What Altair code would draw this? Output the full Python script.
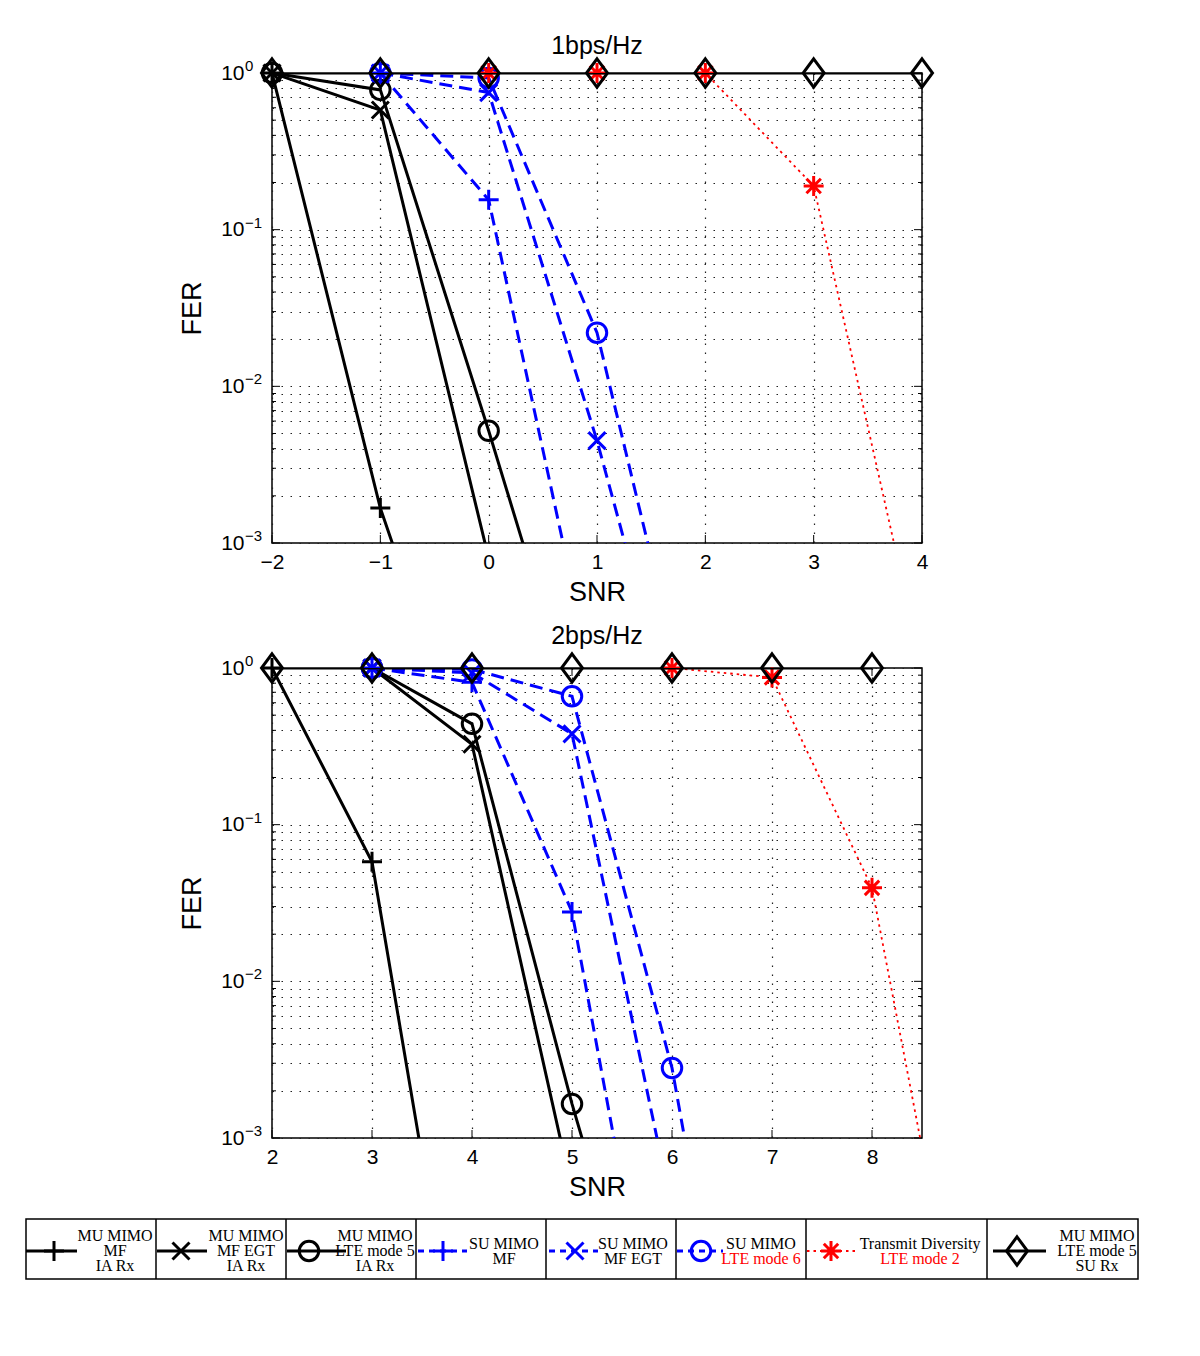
import altair as alt
import pandas as pd

# ---------------- data ----------------
SERIES = [
    "MU MIMO MF IA Rx",
    "MU MIMO MF EGT IA Rx",
    "MU MIMO LTE mode 5 IA Rx",
    "SU MIMO MF",
    "SU MIMO MF EGT",
    "SU MIMO LTE mode 6",
    "Transmit Diversity LTE mode 2",
    "MU MIMO LTE mode 5 SU Rx",
]

# panel 1 : 1bps/Hz
p1_mu_mf_snr = [-2, -1, 0]
p1_mu_mf_fer = [1.0, 1.67e-3, 1.6e-5]
p1_mu_egt_snr = [-2, -1, 0]
p1_mu_egt_fer = [1.0, 0.58, 8.0e-4]
p1_mu_lte5_snr = [-2, -1, 0, 1]
p1_mu_lte5_fer = [1.0, 0.78, 5.2e-3, 2.8e-5]
p1_su_mf_snr = [-1, 0, 1]
p1_su_mf_fer = [1.0, 0.155, 1.0e-4]
p1_su_egt_snr = [-1, 0, 1, 2]
p1_su_egt_fer = [1.0, 0.75, 4.5e-3, 1.3e-5]
p1_su_lte6_snr = [-1, 0, 1, 2]
p1_su_lte6_fer = [1.0, 0.93, 0.022, 3.0e-5]
p1_txdiv_snr = [0, 1, 2, 3, 4]
p1_txdiv_fer = [1.0, 1.0, 1.0, 0.19, 1.6e-4]
p1_mu_su_snr = [-2, -1, 0, 1, 2, 3, 4]
p1_mu_su_fer = [1.0, 1.0, 1.0, 1.0, 1.0, 1.0, 1.0]

# panel 2 : 2bps/Hz
p2_mu_mf_snr = [2, 3, 4]
p2_mu_mf_fer = [1.0, 0.058, 1.0e-5]
p2_mu_egt_snr = [3, 4, 5]
p2_mu_egt_fer = [1.0, 0.326, 4.6e-4]
p2_mu_lte5_snr = [3, 4, 5, 6]
p2_mu_lte5_fer = [1.0, 0.44, 1.65e-3, 1.1e-5]
p2_su_mf_snr = [3, 4, 5, 6]
p2_su_mf_fer = [1.0, 0.81, 0.0277, 1.0e-5]
p2_su_egt_snr = [3, 4, 5, 6]
p2_su_egt_fer = [1.0, 0.93, 0.38, 3.5e-4]
p2_su_lte6_snr = [3, 4, 5, 6, 7]
p2_su_lte6_fer = [1.0, 0.98, 0.66, 2.8e-3, 8.0e-7]
p2_txdiv_snr = [6, 7, 8, 9]
p2_txdiv_fer = [1.0, 0.87, 0.0395, 1.9e-5]
p2_mu_su_snr = [2, 3, 4, 5, 6, 7, 8]
p2_mu_su_fer = [1.0, 1.0, 1.0, 1.0, 1.0, 1.0, 1.0]

P1_TITLE = "1bps/Hz"
P2_TITLE = "2bps/Hz"
P1_XTICKS = [-2, -1, 0, 1, 2, 3, 4]
P2_XTICKS = [2, 3, 4, 5, 6, 7, 8]
Y_MAJOR = [1.0, 0.1, 0.01, 0.001]
Y_EXP = ["0", "\u22121", "\u22122", "\u22123"]

LEG_TEXT = [
    ["MU MIMO", "MF", "IA Rx"],
    ["MU MIMO", "MF EGT", "IA Rx"],
    ["MU MIMO", "LTE mode 5", "IA Rx"],
    ["SU MIMO", "MF"],
    ["SU MIMO", "MF EGT"],
    ["SU MIMO", "LTE mode 6"],
    ["Transmit Diversity", "LTE mode 2"],
    ["MU MIMO", "LTE mode 5", "SU Rx"],
]

# ---------------- styles ----------------
SANS = "Liberation Sans"
SERIF = "Liberation Serif"
BLACK, BLUE, RED = "#000000", "#0000ff", "#ff0000"
PLUS = "M-1,0L1,0M0,-1L0,1"
CROSS = "M-1,-1L1,1M-1,1L1,-1"
STAR = "M-1,0L1,0M0,-1L0,1M-0.72,-0.72L0.72,0.72M-0.72,0.72L0.72,-0.72"
DIAMOND = "M0,-1.35L1,0L0,1.35L-1,0Z"

LINE_COLOR = [BLACK, BLACK, BLACK, BLUE, BLUE, BLUE, RED, BLACK]
LINE_DASH = [None, None, None, [13, 7], [13, 7], [13, 7], [2.5, 4], None]
LINE_WIDTH = [3, 3, 3, 3, 3, 3, 1.8, 3]
MARK_SHAPE = [PLUS, CROSS, "circle", PLUS, CROSS, "circle", STAR, DIAMOND]
MARK_SIZE = [400, 289, 380, 400, 289, 380, 400, 441]
LEG_DASH = [None, None, None, [6, 5], [6, 5], [6, 5], [2.5, 4], None]

W, H = 650, 470
GRID = dict(grid=True, gridDash=[1.5, 7.5], gridColor="#222222", gridOpacity=1,
            gridWidth=1.2, ticks=False, domain=False)


def frame(snr_lists, fer_lists):
    rows = []
    for name, xs, ys in zip(SERIES, snr_lists, fer_lists):
        for x, y in zip(xs, ys):
            rows.append({"series": name, "snr": x, "fer": y})
    return pd.DataFrame(rows)


def y_grid():
    vals = list(Y_MAJOR)
    for k in (-3, -2, -1):
        for m in range(2, 10):
            vals.append(round(m * 10 ** k, 6))
    return vals


def panel(df, xdom, xticks, title, title_offset):
    xs = alt.Scale(domain=xdom, nice=False, zero=False)
    ys = alt.Scale(type="log", domain=[1e-3, 1], nice=False)
    xaxis = alt.Axis(values=xticks, **GRID,
                     labelFont=SANS, labelFontSize=21, labelPadding=8,
                     labelFlush=False, labelColor=BLACK, format="d",
                     title="SNR", titleFont=SANS, titleFontSize=27,
                     titleFontWeight="normal", titlePadding=7, titleColor=BLACK)
    yaxis = alt.Axis(values=y_grid(), **GRID,
                     labelExpr="(datum.value == 1 || datum.value == 0.1 || datum.value == 0.01 || datum.value == 0.001) ? '10' : ''",
                     labelFont=SANS, labelFontSize=21, labelPadding=28,
                     labelOverlap=False, labelColor=BLACK,
                     title="FER", titleFont=SANS, titleFontSize=27,
                     titleFontWeight="normal", titlePadding=14, titleColor=BLACK)
    X = alt.X("snr:Q", scale=xs, axis=xaxis)
    Y = alt.Y("fer:Q", scale=ys, axis=yaxis)

    major = pd.DataFrame({"fer": Y_MAJOR, "exp": Y_EXP})
    minor = pd.DataFrame({"fer": [v for v in y_grid() if v not in Y_MAJOR]})
    xt = pd.DataFrame({"snr": xticks})

    layers = []
    for d, ln in ((major, 8), (minor, 4)):
        layers.append(alt.Chart(d).mark_rule(color=BLACK, strokeWidth=1).encode(
            y=Y, x=alt.value(0), x2=alt.value(ln)))
        layers.append(alt.Chart(d).mark_rule(color=BLACK, strokeWidth=1).encode(
            y=Y, x=alt.value(W - ln), x2=alt.value(W)))
    layers.append(alt.Chart(xt).mark_rule(color=BLACK, strokeWidth=1).encode(
        x=X, y=alt.value(H - 8), y2=alt.value(H)))
    layers.append(alt.Chart(xt).mark_rule(color=BLACK, strokeWidth=1).encode(
        x=X, y=alt.value(0), y2=alt.value(8)))
    layers.append(alt.Chart(major).mark_text(
        align="left", baseline="middle", dy=-7, fontSize=15, font=SANS,
        color=BLACK).encode(y=Y, x=alt.value(-27), text="exp:N"))

    for i, name in enumerate(SERIES):
        sub = df[df["series"] == name]
        lkw = dict(color=LINE_COLOR[i], strokeWidth=LINE_WIDTH[i], clip=True)
        if LINE_DASH[i] is not None:
            lkw["strokeDash"] = LINE_DASH[i]
        layers.append(alt.Chart(sub).mark_line(**lkw).encode(
            x=X, y=Y, order="snr:Q"))
        layers.append(alt.Chart(sub).transform_filter(
            (alt.datum.fer >= 1e-3) & (alt.datum.snr <= xdom[1])
        ).mark_point(shape=MARK_SHAPE[i], size=MARK_SIZE[i], filled=False,
                     strokeWidth=3, color=LINE_COLOR[i],
                     opacity=1, clip=False).encode(x=X, y=Y))
    return alt.layer(*layers).properties(
        width=W, height=H,
        title=alt.Title(title, font=SANS, fontSize=25, fontWeight="normal",
                        color=BLACK, offset=title_offset, frame="group",
                        anchor="middle"))


top = panel(frame(
    [p1_mu_mf_snr, p1_mu_egt_snr, p1_mu_lte5_snr, p1_su_mf_snr, p1_su_egt_snr,
     p1_su_lte6_snr, p1_txdiv_snr, p1_mu_su_snr],
    [p1_mu_mf_fer, p1_mu_egt_fer, p1_mu_lte5_fer, p1_su_mf_fer, p1_su_egt_fer,
     p1_su_lte6_fer, p1_txdiv_fer, p1_mu_su_fer]), [-2, 4], P1_XTICKS, P1_TITLE, -6)

bottom = panel(frame(
    [p2_mu_mf_snr, p2_mu_egt_snr, p2_mu_lte5_snr, p2_su_mf_snr, p2_su_egt_snr,
     p2_su_lte6_snr, p2_txdiv_snr, p2_mu_su_snr],
    [p2_mu_mf_fer, p2_mu_egt_fer, p2_mu_lte5_fer, p2_su_mf_fer, p2_su_egt_fer,
     p2_su_lte6_fer, p2_txdiv_fer, p2_mu_su_fer]), [2, 8.5], P2_XTICKS, P2_TITLE, -1)

# ---------------- legend box (layout in page pixels, relative to plot origin) ----
ORIGIN_X = 271
LH = 60
LEG_EDGES = [25, 155, 285, 415, 545, 675, 805, 986, 1137]
LEG_LINE_X1 = [25, 156, 286, 417, 548, 676, 806, 992]
LEG_LINE_X2 = [76, 206, 345, 466, 597, 722, 856, 1045]
LEG_MARK_X = [53, 180, 308, 442, 574, 700, 830, 1016]
LEG_TEXT_X = [114, 245, 374, 503, 632, 760, 919, 1096]
LEG_LINE_Y = 32
TEXT_Y3 = [17, 32, 47]
TEXT_Y2 = [25, 40]

PX = lambda f: alt.X(f, scale=None, axis=None)
PY = lambda f: alt.Y(f, scale=None, axis=None)

leg_layers = []
box = pd.DataFrame({"x1": [LEG_EDGES[0] - ORIGIN_X], "x2": [LEG_EDGES[-1] - ORIGIN_X],
                    "y1": [0], "y2": [LH]})
leg_layers.append(alt.Chart(box).mark_rect(fill="white", stroke=BLACK, strokeWidth=1.5).encode(
    x=PX("x1:Q"), x2="x2:Q", y=PY("y1:Q"), y2="y2:Q"))
div = pd.DataFrame({"x": [e - ORIGIN_X for e in LEG_EDGES[1:-1]]})
leg_layers.append(alt.Chart(div).mark_rule(color=BLACK, strokeWidth=1.5).encode(
    x=PX("x:Q"), y=alt.value(0), y2=alt.value(LH)))

text_rows = []
for i, name in enumerate(SERIES):
    seg = pd.DataFrame({"x1": [LEG_LINE_X1[i] - ORIGIN_X], "x2": [LEG_LINE_X2[i] - ORIGIN_X],
                        "y": [LEG_LINE_Y], "mx": [LEG_MARK_X[i] - ORIGIN_X]})
    rkw = dict(color=LINE_COLOR[i], strokeWidth=LINE_WIDTH[i])
    if LEG_DASH[i] is not None:
        rkw["strokeDash"] = LEG_DASH[i]
    leg_layers.append(alt.Chart(seg).mark_rule(**rkw).encode(
        x=PX("x1:Q"), x2="x2:Q", y=PY("y:Q")))
    leg_layers.append(alt.Chart(seg).mark_point(
        shape=MARK_SHAPE[i], size=MARK_SIZE[i], filled=False, strokeWidth=3,
        color=LINE_COLOR[i], opacity=1).encode(x=PX("mx:Q"), y=PY("y:Q")))
    lines = LEG_TEXT[i]
    ys = TEXT_Y3 if len(lines) == 3 else TEXT_Y2
    for j, t in enumerate(lines):
        red = (i in (5, 6)) and j == 1
        text_rows.append({"x": LEG_TEXT_X[i] - ORIGIN_X, "y": ys[j], "t": t,
                          "c": RED if red else BLACK})
tdf = pd.DataFrame(text_rows)
leg_layers.append(alt.Chart(tdf).mark_text(
    font=SERIF, fontSize=16, align="center", baseline="middle").encode(
    x=PX("x:Q"), y=PY("y:Q"), text="t:N", color=alt.Color("c:N", scale=None)))

legend = alt.layer(*leg_layers).properties(
    width=W, height=LH, view=alt.ViewBackground(strokeOpacity=0))

chart = alt.vconcat(top, bottom, legend, spacing=17).properties(
    padding={"left": 16, "top": 25, "right": 5, "bottom": 5},
    background="white",
).configure_view(stroke=BLACK, strokeWidth=1.5)

chart.save("out.html", embed_options={"renderer": "svg", "actions": False})
